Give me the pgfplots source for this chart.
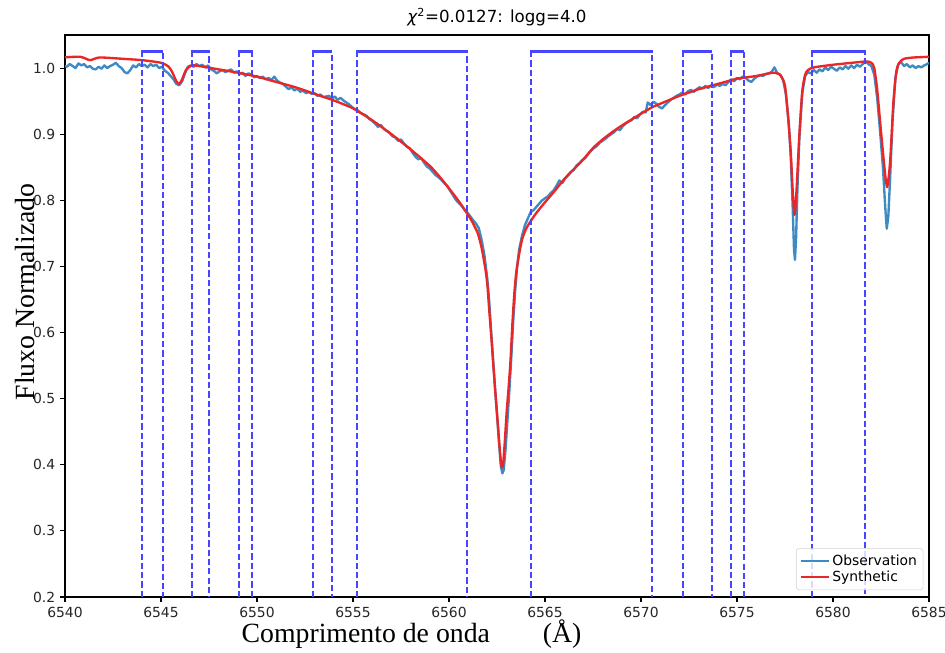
\documentclass[border=0pt]{standalone}
\usepackage{pgfplots}
\pgfplotsset{compat=1.18}
\usepackage{fontspec}
\setmainfont{DejaVu Sans}
\newfontfamily\timesfont{Liberation Serif}
\definecolor{obsblue}{RGB}{62,138,195}
\definecolor{synred}{RGB}{235,38,38}
\definecolor{boxblue}{RGB}{70,70,255}
\begin{document}
\begin{tikzpicture}
\begin{axis}[name=ax,
  scale only axis, width=622.08pt, height=404.64pt,
  xmin=6540, xmax=6585, ymin=0.2, ymax=1.05,
  xtick={6540,6545,...,6585},
  ytick={0.2,0.3,0.4,0.5,0.6,0.7,0.8,0.9,1.0},
  tick align=outside, major tick length=3.5pt,
  every tick/.style={black, line width=0.8pt},
  axis line style={line width=0.8pt},
  xtick pos=bottom, ytick pos=left,
  /pgf/number format/assume math mode=true,
  ticklabel style={font=\fontsize{10}{12}\selectfont, text=black!85},
  xticklabel style={/pgf/number format/1000 sep={}},
  yticklabel style={/pgf/number format/.cd, fixed, fixed zerofill, precision=1},
  title={{\itshape χ}\textsuperscript{2}=0.0127: logg=4.0},
  title style={at={(axis description cs:0.5,1)}, anchor=base, yshift=3pt, font=\fontsize{12}{14}\selectfont},
  xlabel={\timesfont Comprimento de onda\hspace{1.9em}(Å)},
  xlabel style={at={(axis description cs:0.401,0)}, anchor=base, yshift=-33.1pt, font=\fontsize{20}{24}\selectfont},
  ylabel={\timesfont Fluxo Normalizado},
  every axis y label/.style={at={(axis description cs:0,0.543)}, xshift=-21.6pt, rotate=90, anchor=base, font=\fontsize{20}{24}\selectfont},
  legend style={at={(axis description cs:1,0)}, anchor=south east, xshift=-4pt, yshift=5pt,
    draw=black!18, rounded corners=2pt, fill=white, fill opacity=0.8, text opacity=1,
    font=\fontsize{10}{12}\selectfont, row sep=-1.5pt, inner sep=2.5pt},
  legend cell align=left,
  legend image code/.code={\draw[#1, line width=1.5pt] (0cm,0cm) -- (0.7cm,0cm);},
]
% Observation
\addplot[obsblue, line width=1.7pt, line join=round] coordinates {
(6539.9,1.004) (6540.1,1.002) (6540.25,1.006) (6540.4,1.003) (6540.55,1.000) (6540.7,1.007) (6540.85,1.004)
(6541.0,1.006) (6541.15,1.001) (6541.3,1.003) (6541.45,0.999) (6541.6,0.998) (6541.75,1.002) (6541.9,0.999)
(6542.05,1.004) (6542.2,1.000) (6542.35,1.003) (6542.5,1.005) (6542.65,1.008) (6542.8,1.003) (6542.95,1.000)
(6543.1,0.994) (6543.25,0.992) (6543.4,0.997) (6543.55,1.004) (6543.7,1.001) (6543.85,1.006) (6544.0,1.003)
(6544.15,1.005) (6544.3,1.001) (6544.45,1.006) (6544.6,1.003) (6544.75,1.005) (6544.9,1.000) (6545.05,1.002)
(6545.2,0.996) (6545.35,0.993) (6545.5,0.988) (6545.65,0.983) (6545.8,0.976) (6545.95,0.974) (6546.1,0.980)
(6546.25,0.992) (6546.4,1.002) (6546.55,1.004) (6546.7,1.002) (6546.85,1.006) (6547.0,1.003) (6547.15,1.005)
(6547.3,1.001) (6547.45,1.004) (6547.6,0.998) (6547.75,0.996) (6547.9,0.992) (6548.05,0.995) (6548.2,0.997)
(6548.35,0.994) (6548.5,0.996) (6548.65,0.998) (6548.8,0.993) (6548.95,0.995) (6549.1,0.991) (6549.25,0.993)
(6549.4,0.988) (6549.55,0.992) (6549.7,0.990) (6549.85,0.986) (6550.0,0.988) (6550.15,0.985) (6550.3,0.987)
(6550.45,0.983) (6550.6,0.985) (6550.75,0.982) (6550.9,0.987) (6551.05,0.981) (6551.2,0.978) (6551.35,0.976)
(6551.5,0.972) (6551.65,0.968) (6551.8,0.971) (6551.95,0.966) (6552.1,0.969) (6552.25,0.964) (6552.4,0.966)
(6552.55,0.962) (6552.7,0.964) (6552.85,0.961) (6553.0,0.962) (6553.15,0.958) (6553.3,0.960) (6553.45,0.956)
(6553.6,0.957) (6553.75,0.958) (6553.9,0.954) (6554.05,0.957) (6554.2,0.952) (6554.35,0.955) (6554.5,0.951)
(6554.65,0.948) (6554.8,0.945) (6554.95,0.941) (6555.1,0.938) (6555.25,0.936) (6555.4,0.932) (6555.55,0.930)
(6555.7,0.928) (6555.85,0.923) (6556.0,0.920) (6556.15,0.916) (6556.3,0.911) (6556.45,0.914) (6556.6,0.908)
(6556.75,0.905) (6556.9,0.902) (6557.05,0.897) (6557.2,0.895) (6557.35,0.890) (6557.5,0.892) (6557.65,0.886)
(6557.8,0.881) (6557.95,0.879) (6558.1,0.872) (6558.25,0.866) (6558.4,0.862) (6558.55,0.864) (6558.7,0.857)
(6558.85,0.851) (6559.0,0.848) (6559.15,0.843) (6559.3,0.838) (6559.45,0.835) (6559.6,0.831) (6559.75,0.826)
(6559.9,0.822) (6560.05,0.815) (6560.2,0.808) (6560.35,0.801) (6560.5,0.796) (6560.65,0.792) (6560.8,0.786)
(6560.95,0.782) (6561.1,0.776) (6561.25,0.770) (6561.4,0.765) (6561.55,0.758) (6561.7,0.740) (6561.85,0.716)
(6562.0,0.680) (6562.1,0.645) (6562.2,0.600) (6562.3,0.558) (6562.4,0.515) (6562.5,0.476) (6562.6,0.435)
(6562.7,0.398) (6562.78,0.387) (6562.85,0.392) (6562.95,0.425) (6563.05,0.470) (6563.15,0.515) (6563.25,0.565)
(6563.35,0.620) (6563.45,0.665) (6563.55,0.700) (6563.65,0.725) (6563.8,0.746) (6563.95,0.762) (6564.1,0.772)
(6564.25,0.782) (6564.4,0.785) (6564.55,0.790) (6564.7,0.795) (6564.85,0.800) (6565.0,0.803) (6565.15,0.806)
(6565.3,0.811) (6565.45,0.815) (6565.6,0.822) (6565.75,0.830) (6565.9,0.826) (6566.05,0.833) (6566.2,0.838)
(6566.35,0.843) (6566.5,0.846) (6566.65,0.853) (6566.8,0.856) (6566.95,0.861) (6567.1,0.864) (6567.25,0.870)
(6567.4,0.875) (6567.55,0.879) (6567.7,0.882) (6567.85,0.887) (6568.0,0.890) (6568.15,0.893) (6568.3,0.897)
(6568.45,0.900) (6568.6,0.903) (6568.75,0.908) (6568.9,0.906) (6569.05,0.912) (6569.2,0.916) (6569.35,0.919)
(6569.5,0.921) (6569.65,0.926) (6569.8,0.924) (6569.95,0.930) (6570.1,0.934) (6570.25,0.933) (6570.35,0.948)
(6570.5,0.944) (6570.65,0.949) (6570.8,0.946) (6570.95,0.941) (6571.1,0.939) (6571.25,0.944) (6571.4,0.948)
(6571.55,0.952) (6571.7,0.955) (6571.85,0.958) (6572.0,0.960) (6572.15,0.963) (6572.3,0.960) (6572.45,0.965)
(6572.6,0.967) (6572.75,0.964) (6572.9,0.968) (6573.05,0.971) (6573.2,0.969) (6573.35,0.973) (6573.5,0.970)
(6573.65,0.974) (6573.8,0.971) (6573.95,0.975) (6574.1,0.973) (6574.25,0.976) (6574.4,0.974) (6574.55,0.979)
(6574.7,0.983) (6574.85,0.980) (6575.0,0.985) (6575.15,0.983) (6575.3,0.987) (6575.45,0.985) (6575.6,0.981)
(6575.75,0.979) (6575.9,0.984) (6576.05,0.987) (6576.2,0.989) (6576.35,0.988) (6576.5,0.991) (6576.65,0.992)
(6576.8,0.994) (6576.95,1.001) (6577.1,0.992) (6577.25,0.990) (6577.4,0.982) (6577.55,0.960) (6577.7,0.915)
(6577.8,0.865) (6577.9,0.790) (6577.97,0.725) (6578.02,0.710) (6578.08,0.745) (6578.15,0.820) (6578.25,0.895)
(6578.4,0.962) (6578.55,0.988) (6578.7,0.994) (6578.85,0.992) (6579.0,0.997) (6579.15,0.993) (6579.3,0.998)
(6579.45,0.995) (6579.6,1.001) (6579.75,0.997) (6579.9,1.002) (6580.05,0.999) (6580.2,0.996) (6580.35,1.001)
(6580.5,0.998) (6580.65,1.003) (6580.8,0.999) (6580.95,1.004) (6581.1,1.000) (6581.25,1.005) (6581.4,1.002)
(6581.55,1.006) (6581.7,1.010) (6581.85,1.006) (6582.0,1.003) (6582.15,0.990) (6582.3,0.955) (6582.45,0.905)
(6582.6,0.850) (6582.72,0.790) (6582.8,0.757) (6582.88,0.775) (6582.97,0.830) (6583.1,0.920) (6583.25,0.985)
(6583.4,1.006) (6583.55,1.009) (6583.7,1.003) (6583.85,1.006) (6584.0,1.001) (6584.15,1.004) (6584.3,1.000)
(6584.45,1.003) (6584.6,1.001) (6584.75,1.004) (6584.9,1.006) (6585.0,1.008)
};
\addlegendentry{Observation}
% Synthetic
\addplot[synred, line width=1.7pt, line join=round, smooth, tension=0.4] coordinates {
(6539.8,1.016) (6540.8,1.017) (6541.3,1.012) (6541.8,1.016) (6543.0,1.014) (6544.0,1.012) (6545.0,1.008)
(6545.4,1.002) (6545.6,0.993) (6545.8,0.980) (6545.95,0.976) (6546.1,0.983) (6546.3,0.997) (6546.6,1.004)
(6547.0,1.003) (6548.0,0.998) (6549.0,0.993) (6550.0,0.987) (6551.0,0.979) (6552.0,0.971) (6553.0,0.961)
(6554.0,0.951) (6555.0,0.939) (6556.0,0.921) (6557.0,0.900) (6558.0,0.877) (6559.0,0.852) (6559.5,0.836)
(6560.0,0.818) (6560.5,0.799) (6560.9,0.782) (6561.2,0.768) (6561.5,0.750) (6561.7,0.728) (6561.9,0.695)
(6562.0,0.672) (6562.1,0.632) (6562.2,0.595) (6562.3,0.554) (6562.4,0.515) (6562.5,0.478) (6562.6,0.440)
(6562.7,0.405) (6562.76,0.396) (6562.82,0.402) (6562.9,0.432) (6563.0,0.478) (6563.1,0.515) (6563.2,0.556)
(6563.3,0.612) (6563.4,0.658) (6563.5,0.690) (6563.65,0.718) (6563.8,0.740) (6564.0,0.756) (6564.2,0.766)
(6564.5,0.779) (6565.0,0.797) (6565.5,0.814) (6566.0,0.832) (6566.5,0.847) (6567.0,0.862) (6567.5,0.879)
(6568.0,0.892) (6568.5,0.903) (6569.0,0.913) (6569.5,0.922) (6570.0,0.931) (6570.6,0.941) (6571.0,0.946)
(6571.5,0.952) (6572.0,0.958) (6572.4,0.962) (6573.0,0.968) (6573.5,0.972) (6574.0,0.976) (6574.5,0.980)
(6575.0,0.984) (6575.5,0.986) (6576.0,0.988) (6576.5,0.991) (6576.9,0.993) (6577.2,0.991) (6577.35,0.985)
(6577.5,0.973) (6577.65,0.930) (6577.8,0.873) (6577.9,0.815) (6578.0,0.778) (6578.1,0.815) (6578.25,0.900)
(6578.4,0.965) (6578.55,0.990) (6578.7,0.997) (6579.0,1.001) (6580.0,1.005) (6581.0,1.008) (6581.75,1.010)
(6582.0,1.008) (6582.15,1.000) (6582.3,0.968) (6582.45,0.920) (6582.6,0.873) (6582.72,0.838) (6582.82,0.820)
(6582.92,0.840) (6583.0,0.870) (6583.15,0.950) (6583.3,0.995) (6583.45,1.008) (6583.7,1.014) (6584.2,1.016)
(6585.0,1.017)
};
\addlegendentry{Synthetic}
% Fitting windows
\pgfplotsset{boxside/.style={boxblue, line width=1.7pt, dash pattern=on 4.5pt off 2.2pt, forget plot},
             boxtop/.style={boxblue, line width=1.7pt, forget plot}}
\addplot[boxside] coordinates {(6544.0,0.2) (6544.0,1.025) (6545.1,1.025) (6545.1,0.2)};
\addplot[boxtop] coordinates {(6544.0,1.025) (6545.1,1.025)};
\addplot[boxside] coordinates {(6546.6,0.2) (6546.6,1.025) (6547.5,1.025) (6547.5,0.2)};
\addplot[boxtop] coordinates {(6546.6,1.025) (6547.5,1.025)};
\addplot[boxside] coordinates {(6549.05,0.2) (6549.05,1.025) (6549.75,1.025) (6549.75,0.2)};
\addplot[boxtop] coordinates {(6549.05,1.025) (6549.75,1.025)};
\addplot[boxside] coordinates {(6552.9,0.2) (6552.9,1.025) (6553.9,1.025) (6553.9,0.2)};
\addplot[boxtop] coordinates {(6552.9,1.025) (6553.9,1.025)};
\addplot[boxside] coordinates {(6555.2,0.2) (6555.2,1.025) (6560.95,1.025) (6560.95,0.2)};
\addplot[boxtop] coordinates {(6555.2,1.025) (6560.95,1.025)};
\addplot[boxside] coordinates {(6564.27,0.2) (6564.27,1.025) (6570.57,1.025) (6570.57,0.2)};
\addplot[boxtop] coordinates {(6564.27,1.025) (6570.57,1.025)};
\addplot[boxside] coordinates {(6572.2,0.2) (6572.2,1.025) (6573.7,1.025) (6573.7,0.2)};
\addplot[boxtop] coordinates {(6572.2,1.025) (6573.7,1.025)};
\addplot[boxside] coordinates {(6574.69,0.2) (6574.69,1.025) (6575.35,1.025) (6575.35,0.2)};
\addplot[boxtop] coordinates {(6574.69,1.025) (6575.35,1.025)};
\addplot[boxside] coordinates {(6578.9,0.2) (6578.9,1.025) (6581.67,1.025) (6581.67,0.2)};
\addplot[boxtop] coordinates {(6578.9,1.025) (6581.67,1.025)};
\end{axis}
\pgfresetboundingbox
\path (ax.south west) ++(-46.8pt,-39.6pt) rectangle ++(680.4pt,469.44pt);
\end{tikzpicture}
\end{document}
